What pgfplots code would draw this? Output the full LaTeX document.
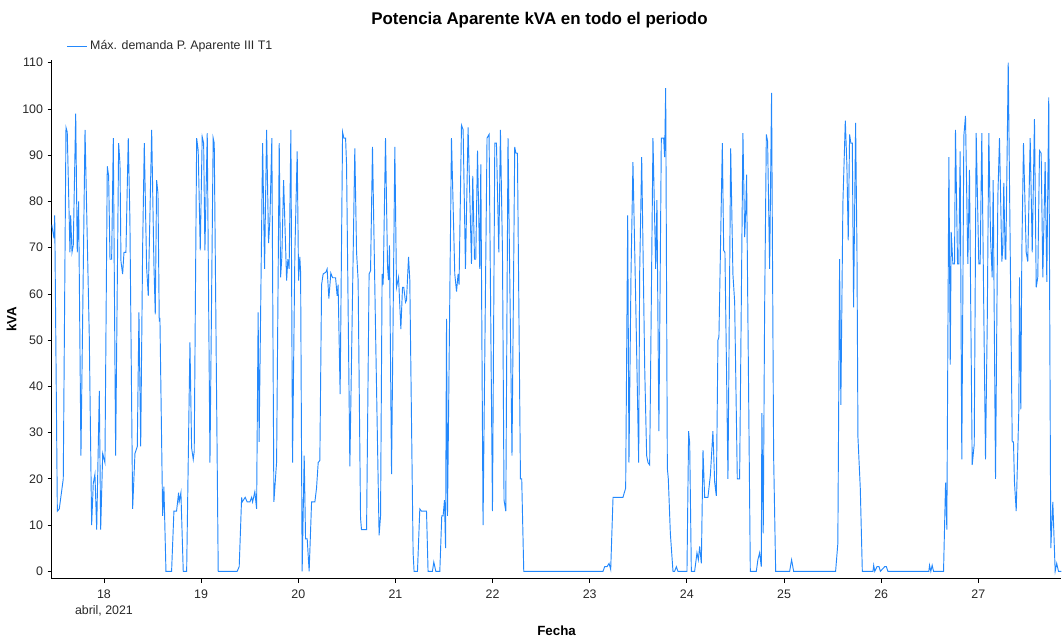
\documentclass[border=0pt]{standalone}
\usepackage{fontspec}
\setmainfont{Liberation Sans}
\usepackage{pgfplots}
\pgfplotsset{compat=1.18}
\definecolor{serie}{RGB}{35,136,252}
\definecolor{txt}{RGB}{40,40,40}

\begin{document}
\begin{tikzpicture}
\begin{axis}[
    at={(0,0)}, anchor=south west,
    scale only axis,
    width=757.7pt, height=389.25pt,
    xmin=17.462, xmax=27.856,
    ymin=-1.6, ymax=110.6,
    axis lines=left,
    axis line style={-, black, line width=0.8pt},
    tick align=outside,
    major tick length=3pt,
    tick style={black, line width=0.6pt},
    xtick={18,19,20,21,22,23,24,25,26,27},
    xticklabels={{18\\[1pt]abril, 2021},19,20,21,22,23,24,25,26,27},
    xticklabel style={align=center, anchor=north, yshift=-2pt},
    ytick={0,10,...,110},
    /pgf/number format/assume math mode=true,
    tick label style={font=\fontsize{9.3}{11}\selectfont, text=txt},
    xlabel={\bfseries Fecha},
    ylabel={\bfseries kVA},
    label style={font=\fontsize{10}{12}\selectfont, text=black},
    xlabel style={at={(0.5,0)}, anchor=north, yshift=-32pt},
    ylabel style={at={(0,0.5)}, anchor=south, yshift=23pt},
    legend style={at={(0,1)}, anchor=south west, xshift=8pt, yshift=2pt,
        draw=none, fill=none, font=\fontsize{9.3}{11}\selectfont, text=txt},
    legend cell align=left,
    legend image code/.code={\draw[#1] (0pt,0pt) -- (15pt,0pt);},
    clip=true,
]
\addplot[serie, line width=0.7pt] table {
x y
17.462 75
17.486 72
17.493 77
17.520 13
17.540 13.5
17.581 20
17.609 96
17.622 95
17.650 69
17.657 77
17.671 69
17.684 70.5
17.709 99
17.725 69
17.739 80
17.763 25
17.805 95.5
17.822 78
17.849 50.6
17.873 10
17.890 19
17.907 21
17.925 9
17.952 39
17.966 9
17.987 25.5
18.010 23.5
18.034 87.6
18.048 85.5
18.062 67.5
18.079 67.5
18.096 93.7
18.120 25
18.151 92.6
18.165 88
18.175 67
18.192 64.3
18.206 69
18.226 69
18.250 93.7
18.267 76
18.295 13.5
18.319 25.5
18.343 27
18.360 56
18.378 27
18.398 70
18.415 92.6
18.439 65.7
18.456 59.6
18.491 95.5
18.514 66.5
18.528 55.6
18.542 84.6
18.556 81.7
18.569 54
18.576 54.8
18.604 12
18.617 18.3
18.638 0
18.696 0
18.720 13
18.747 13
18.768 17
18.774 15
18.792 17
18.816 0
18.851 0
18.885 49.5
18.902 26.7
18.919 24.2
18.929 26
18.954 93.7
18.970 91
18.991 69.4
19.011 94
19.026 92.6
19.039 69.4
19.063 94.8
19.091 23.5
19.124 93.7
19.135 92.6
19.176 0
19.371 0
19.392 1
19.417 16
19.423 15
19.454 16
19.474 15
19.502 15
19.520 16
19.530 15
19.553 17.2
19.571 13.5
19.587 56
19.597 28
19.633 92.6
19.653 65.4
19.674 95.5
19.694 71
19.708 76
19.728 93.7
19.749 15
19.777 23.7
19.804 92.6
19.818 63.6
19.831 68
19.849 84.6
19.880 62.9
19.893 67.5
19.906 65.4
19.924 95.5
19.941 23.5
19.965 69
19.989 90.8
20.003 62.9
20.016 68
20.024 64.7
20.040 0
20.061 25
20.075 7
20.092 7
20.112 0
20.137 15
20.171 15
20.188 18
20.205 23.5
20.222 24
20.240 62
20.256 64.3
20.284 64.7
20.297 65.4
20.315 59
20.335 64.5
20.353 63.5
20.384 63.5
20.400 59.6
20.410 62
20.431 38.3
20.456 95
20.469 93.7
20.487 93.7
20.497 88
20.531 22.7
20.582 91.5
20.600 69
20.616 63
20.641 11.5
20.651 9
20.703 9
20.729 64.3
20.744 65
20.764 91.8
20.798 49
20.832 7.8
20.847 12
20.863 64.3
20.874 62
20.898 93.7
20.919 65.7
20.929 63
20.939 70.5
20.960 21
20.994 91.8
21.011 61.4
21.032 63.6
21.056 52.4
21.073 61.4
21.086 61.4
21.104 58.2
21.114 58.6
21.135 68
21.148 63
21.182 4
21.192 0
21.227 0
21.251 13.5
21.268 13
21.320 13
21.336 0
21.381 0
21.395 2
21.416 0
21.457 0
21.477 12
21.491 12
21.505 15.4
21.516 5
21.526 54.6
21.536 12
21.577 93.7
21.611 64.3
21.629 60.5
21.645 64.3
21.655 62
21.680 96.5
21.697 95.5
21.721 65.4
21.748 96
21.783 66.5
21.796 85.5
21.814 67.5
21.827 67.5
21.845 91
21.868 65.4
21.879 88
21.902 10
21.943 93.7
21.964 94.5
21.999 13
22.023 92.6
22.040 92.6
22.064 69
22.081 95.5
22.102 69
22.118 15.4
22.136 13
22.159 93.7
22.200 25
22.228 91.8
22.239 90.5
22.256 90.4
22.287 20
22.300 20
22.321 0
23.137 0
23.154 1
23.178 1
23.199 1.7
23.216 0.4
23.240 16
23.342 16
23.370 18
23.391 77
23.404 23.5
23.425 64.3
23.445 88.5
23.473 59
23.504 23.5
23.514 64.3
23.535 89.6
23.566 44
23.586 25
23.600 23.5
23.617 23
23.651 93.7
23.679 65.4
23.692 80.3
23.712 30.3
23.737 93.7
23.761 93.7
23.771 89.6
23.782 104.5
23.799 22.3
23.809 20
23.830 8.2
23.857 0
23.874 0
23.892 1
23.908 0
24.001 0
24.018 30.3
24.029 27.7
24.046 0
24.080 0
24.104 4
24.118 2.5
24.132 5.4
24.149 1.7
24.166 26.2
24.183 16
24.217 16
24.242 20.8
24.268 30.3
24.286 19.3
24.303 16.3
24.320 50
24.330 50.7
24.365 92.6
24.379 69.4
24.392 69
24.423 20
24.451 91.5
24.474 64.3
24.492 58.2
24.519 20
24.543 20
24.577 94.8
24.595 72.3
24.605 77.4
24.615 85.8
24.622 69
24.653 0
24.715 0
24.731 2.5
24.749 4
24.766 1
24.772 34.2
24.786 8.2
24.800 55.6
24.818 94.5
24.831 93
24.852 65.4
24.872 103.5
24.893 25
24.914 0
25.058 0
25.078 2.5
25.099 0
25.531 0
25.554 6
25.572 67.5
25.585 36
25.606 79.6
25.631 97.5
25.647 88
25.661 71.6
25.675 94.5
25.688 92.6
25.703 92.6
25.716 57.1
25.737 97
25.751 69
25.761 29
25.785 18
25.806 0
25.916 0
25.923 1.3
25.934 0
25.957 1
25.978 1
25.992 0
26.036 1
26.053 1
26.069 0
26.491 0
26.498 1.3
26.511 0
26.525 1.3
26.539 0
26.642 0
26.663 19.2
26.676 9
26.697 89.6
26.711 44.7
26.721 73.4
26.738 66.5
26.755 66.5
26.765 95.5
26.786 66.5
26.799 66.5
26.813 90.8
26.830 24.2
26.851 94.2
26.868 98.5
26.892 66.5
26.909 86.8
26.937 23
26.958 27.5
26.978 94.8
27.005 66.5
27.019 66.5
27.036 94.8
27.056 57
27.074 24.2
27.092 54
27.108 94.8
27.126 72
27.143 63.6
27.153 84.6
27.177 20
27.201 81
27.218 93.7
27.242 67
27.252 69.8
27.262 84
27.277 67.5
27.283 67.5
27.308 110
27.349 28
27.362 28
27.372 19.3
27.390 13
27.417 35
27.424 63.6
27.437 35
27.448 69
27.465 92.6
27.493 69
27.509 67
27.534 93.7
27.555 69
27.578 97.8
27.596 61.4
27.612 63.6
27.630 91
27.647 90.4
27.664 63.6
27.688 88.5
27.705 62.6
27.725 102.5
27.746 5
27.767 15
27.791 0
27.807 1.7
27.825 0
27.856 0
};
\addlegendentry{Máx. demanda P. Aparente III T1}
\end{axis}
\node[font=\fontsize{12.7}{14}\selectfont\bfseries, anchor=center] at (366pt,419pt) {Potencia Aparente kVA en todo el periodo};
\path (-38.8pt,-45.75pt) rectangle (757.7pt,434.25pt);
\end{tikzpicture}
\end{document}
